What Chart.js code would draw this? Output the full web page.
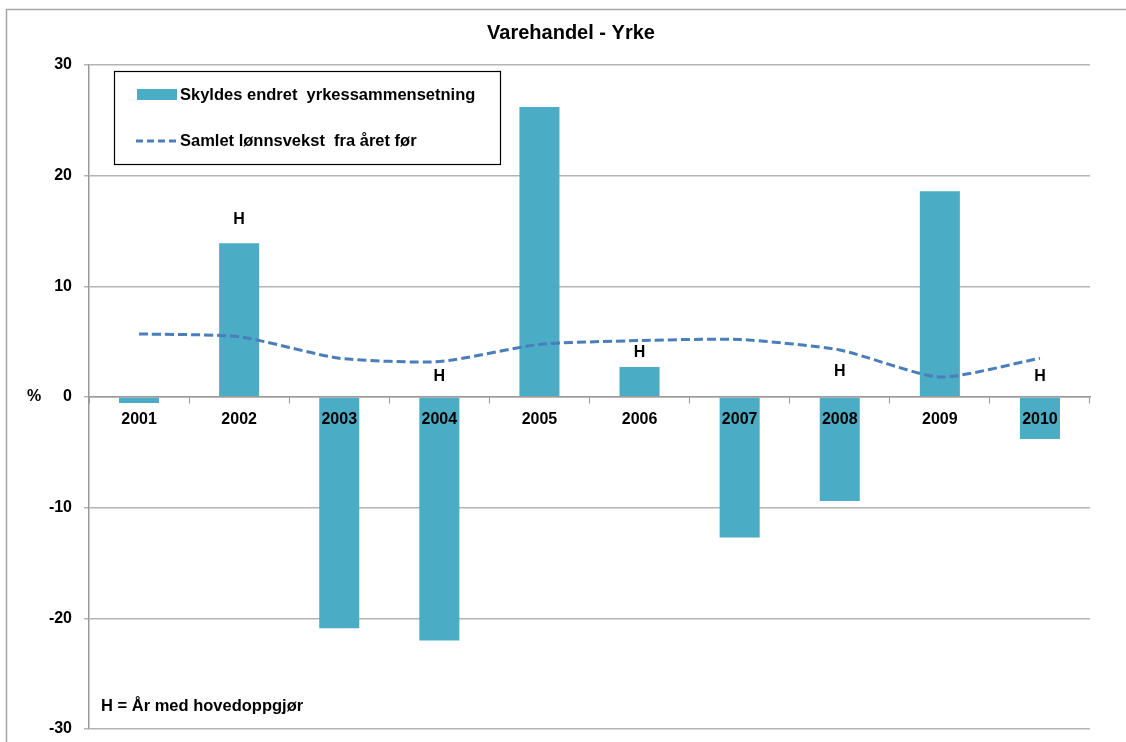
<!DOCTYPE html>
<html>
<head>
<meta charset="utf-8">
<script src="https://cdn.jsdelivr.net/npm/chart.js@4/dist/chart.umd.min.js"></script>
<style>
html,body{margin:0;padding:0;background:#fff;}
#wrap{width:1126px;height:742px;position:relative;}
</style>
</head>
<body>
<div id="wrap"><canvas id="c" width="1126" height="742"></canvas></div>
<script>
const categories = ['2001','2002','2003','2004','2005','2006','2007','2008','2009','2010'];
const yrkeValues = [-0.55, 13.9, -20.9, -22.0, 26.2, 2.7, -12.7, -9.4, 18.6, -3.8];
const lonnsvekstValues = [5.7, 5.45, 3.5, 3.2, 4.75, 5.1, 5.2, 4.25, 1.8, 3.5];
const yTicks = [-30, -20, -10, 0, 10, 20, 30];
const hYears = ['2002','2004','2006','2008','2010'];
const hLabelValues = [16.0, 1.8, 4.0, 2.3, 1.8];

const FONT = '"Liberation Sans", Arial, Helvetica, sans-serif';
const BAR_COLOR = '#4bacc6';
const LINE_COLOR = '#4a7ebb';
const GRID = '#b4b4b4';

const deco = {
  id: 'deco',
  afterDraw(chart) {
    const ctx = chart.ctx;
    const x = chart.scales.x, y = chart.scales.y;
    ctx.save();
    // outer border
    ctx.strokeStyle = '#a6a6a6';
    ctx.lineWidth = 1.5;
    ctx.beginPath();
    ctx.moveTo(6.5, 742); ctx.lineTo(6.5, 9.5); ctx.lineTo(1126, 9.5);
    ctx.stroke();
    // title
    ctx.fillStyle = '#000';
    ctx.font = 'bold 20px ' + FONT;
    ctx.textAlign = 'center'; ctx.textBaseline = 'middle';
    ctx.fillText('Varehandel - Yrke', 571, 33);
    // legend box
    ctx.fillStyle = '#fff';
    ctx.fillRect(114, 71, 386, 93);
    ctx.strokeStyle = '#000'; ctx.lineWidth = 1.2;
    ctx.strokeRect(114.5, 71.5, 386, 93);
    ctx.fillStyle = BAR_COLOR;
    ctx.fillRect(137, 89, 40, 11);
    ctx.strokeStyle = LINE_COLOR; ctx.lineWidth = 3;
    ctx.setLineDash([7, 4]);
    ctx.beginPath(); ctx.moveTo(136, 141); ctx.lineTo(176, 141); ctx.stroke();
    ctx.setLineDash([]);
    ctx.fillStyle = '#000';
    ctx.font = 'bold 16.5px ' + FONT;
    ctx.textAlign = 'left'; ctx.textBaseline = 'middle';
    ctx.fillText('Skyldes endret  yrkessammensetning', 180, 95);
    ctx.fillText('Samlet lønnsvekst  fra året før', 180, 141);
    // % label
    ctx.font = 'bold 16px ' + FONT;
    ctx.textAlign = 'center';
    ctx.fillText('%', 34, y.getPixelForValue(0));
    // H labels
    hYears.forEach((yr, i) => {
      ctx.fillText('H', x.getPixelForValue(categories.indexOf(yr)), y.getPixelForValue(hLabelValues[i]));
    });
    // footnote
    ctx.textAlign = 'left';
    ctx.font = 'bold 16.5px ' + FONT;
    ctx.fillText('H = År med hovedoppgjør', 101, 706);
    ctx.restore();
  }
};

new Chart(document.getElementById('c'), {
  data: {
    labels: categories,
    datasets: [
      {
        type: 'line',
        label: 'Samlet lønnsvekst fra året før',
        data: lonnsvekstValues,
        borderColor: LINE_COLOR,
        borderWidth: 3,
        borderDash: [9, 4],
        pointRadius: 0,
        tension: 0.2,
        fill: false,
        order: 0
      },
      {
        type: 'bar',
        label: 'Skyldes endret yrkessammensetning',
        data: yrkeValues,
        backgroundColor: BAR_COLOR,
        categoryPercentage: 1,
        barPercentage: 0.4,
        order: 1
      }
    ]
  },
  options: {
    responsive: false,
    animation: false,
    events: [],
    layout: { padding: { left: 0, right: 36, top: 65, bottom: 13 } },
    plugins: { legend: { display: false }, title: { display: false }, tooltip: { enabled: false } },
    scales: {
      x: {
        type: 'category',
        position: { y: 0 },
        offset: true,
        afterFit(s) { s.height = 0; s.paddingTop = 0; s.paddingBottom = 0; },
        grid: { display: true, drawOnChartArea: false, drawTicks: true, tickLength: 6, color: '#999', offset: true, z: 1 },
        border: { display: true, color: '#999', width: 1.5, z: 1 },
        ticks: { color: '#000', font: { family: FONT, size: 16, weight: 'bold' }, padding: 7, maxRotation: 0, z: 2 }
      },
      y: {
        min: -30, max: 30,
        afterFit(s) { s.width = 89; s.paddingTop = 0; s.paddingBottom = 0; },
        afterBuildTicks(s) { s.ticks = yTicks.map(v => ({ value: v })); },
        grid: { color: GRID, lineWidth: 1.5, tickLength: 5, drawTicks: true },
        border: { display: true, color: '#999', width: 1.5 },
        ticks: { color: '#000', font: { family: FONT, size: 16, weight: 'bold' }, padding: 12 }
      }
    }
  },
  plugins: [deco]
});
</script>
</body>
</html>
